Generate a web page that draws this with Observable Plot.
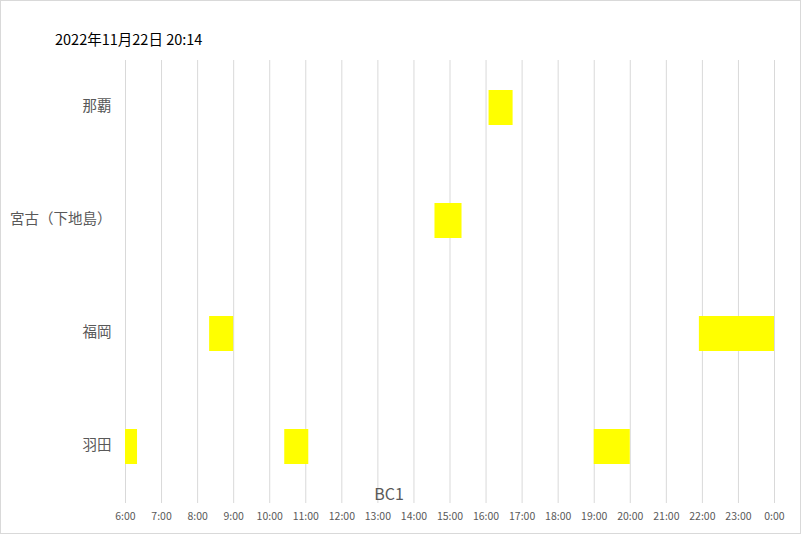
<!DOCTYPE html>
<html>
<head>
<meta charset="utf-8">
<script src="https://cdn.jsdelivr.net/npm/d3@7"></script>
<script src="https://cdn.jsdelivr.net/npm/@observablehq/plot@0.6"></script>
<style>
  html, body { margin: 0; padding: 0; background: #fff; }
  #wrap { position: relative; width: 801px; height: 534px; overflow: hidden; }
  #border { position: absolute; left: 0; top: 0; width: 801px; height: 534px; box-sizing: border-box; border: 1px solid #d9d9d9; pointer-events: none; }
  #title { position: absolute; left: 55px; top: 28px; font-family: "Noto Sans CJK JP", sans-serif; font-size: 14.5px; color: #000; white-space: nowrap; }
</style>
</head>
<body>
<div id="wrap">
  <div id="chart"></div>
  <div id="title">2022年11月22日 20:14</div>
  <div id="border"></div>
</div>
<script>
const airports = ["那覇", "宮古（下地島）", "福岡", "羽田"];
const barAirport = ["那覇", "宮古（下地島）", "福岡", "福岡", "羽田", "羽田", "羽田"];
const barStart = ["16:05", "14:35", "8:20", "21:55", "6:00", "10:25", "19:00"];
const barEnd = ["16:45", "15:20", "9:00", "24:00", "6:20", "11:05", "20:00"];
const hourTicks = [6, 7, 8, 9, 10, 11, 12, 13, 14, 15, 16, 17, 18, 19, 20, 21, 22, 23, 24];
const axisTitle = "BC1";

const toHours = s => { const [h, m] = s.split(":").map(Number); return h + m / 60; };
const bars = barAirport.map((a, i) => ({ airport: a, start: toHours(barStart[i]), end: toHours(barEnd[i]) }));

const chart = Plot.plot({
  width: 801,
  height: 534,
  marginLeft: 125,
  marginRight: 27,
  marginTop: 50.5,
  marginBottom: 31,
  style: { fontFamily: "'Noto Sans CJK JP', sans-serif", color: "#595959", background: "transparent" },
  x: { domain: [6, 24], ticks: hourTicks, tickFormat: h => `${h % 24}:00`, label: null },
  y: { domain: airports, paddingInner: 0.69, paddingOuter: 0.345, label: null },
  marks: [
    Plot.ruleX(hourTicks, { stroke: "#d9d9d9", strokeWidth: 1, insetTop: 9.5 }),
    Plot.barX(bars, { x1: "start", x2: "end", y: "airport", fill: "#ffff00" }),
    Plot.axisX({ ticks: hourTicks, tickFormat: h => `${h % 24}:00`, tickSize: 0, tickPadding: 9, fontSize: 10.5, fill: "#595959", label: null }),
    Plot.axisY({ tickSize: 0, tickPadding: 14, fontSize: 14.5, dy: -1.5, fill: "#595959", label: null }),
    Plot.text([axisTitle], { text: d => d, frameAnchor: "bottom", dx: -61, dy: -4, fontSize: 16, fill: "#595959" })
  ]
});
document.getElementById("chart").appendChild(chart);
</script>
</body>
</html>
